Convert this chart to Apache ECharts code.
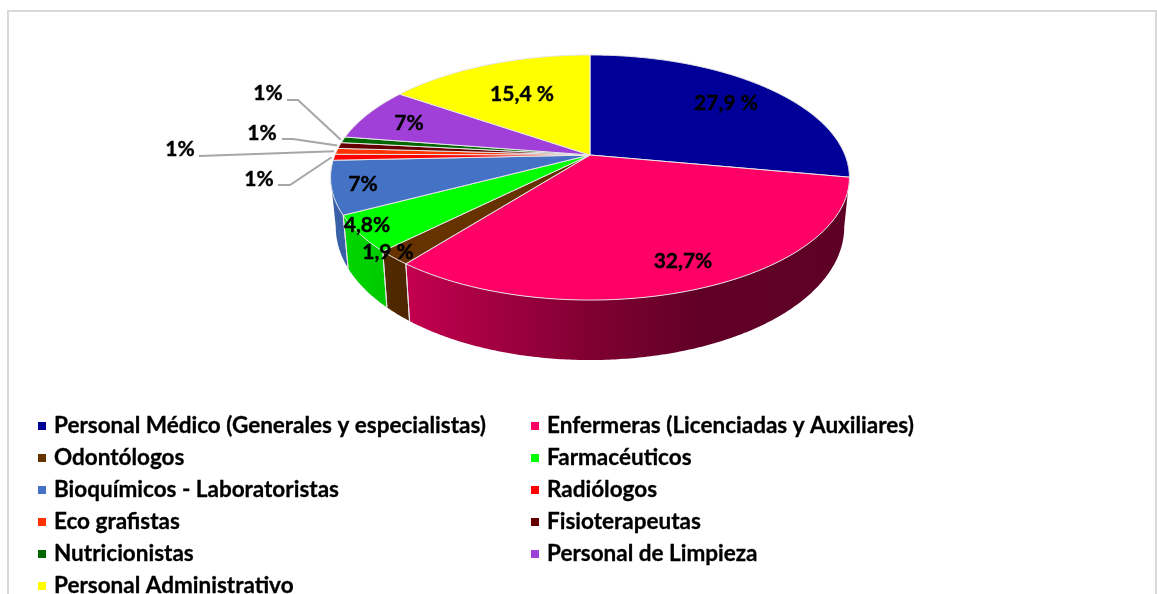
<!DOCTYPE html>
<html>
<head>
<meta charset="utf-8">
<style>html,body{margin:0;padding:0;background:#fff}#c{width:1157px;height:594px}</style>
<script src="https://cdn.jsdelivr.net/npm/echarts@6/dist/echarts.min.js"></script>
</head>
<body>
<div id="c"></div>
<script>
// DATA
const categories = ['Personal Médico (Generales y especialistas)','Enfermeras (Licenciadas y Auxiliares)','Odontólogos','Farmacéuticos','Bioquímicos - Laboratoristas','Radiólogos','Eco grafistas','Fisioterapeutas','Nutricionistas','Personal de Limpieza','Personal Administrativo'];
const values = [27.9,32.7,1.9,4.8,7,0.8,0.8,0.8,0.8,7.1,15.4];
const valueLabels = ['27,9 %','32,7%','1,9 %','4,8%','7%','1%','1%','1%','1%','7%','15,4 %'];
const colors = ['#000099','#FF0066','#663300','#00FF00','#4472C4','#FF0000','#FF3300','#660000','#006600','#A040D8','#FFFF00'];

// LAYOUT (separate from data)
const labelAt = [[726,103],[683,261],[388,252],[367,225],[363,184],[259,179],[180,149],[262,133],[268,93],[409,123],[522,94]];
const leaderVia = {5:[[278,185],[290,185]],6:[[199,156],[199,156]],7:[[282,139],[293,139]],8:[[287,100],[298,100]]};
const FONT = 'Lato';
const CX=590, CY=155, R=255, A=118.4, C=-0.1837, RING=0.98, DROP0=47, DROP1=13;

const total = values.reduce((a,b)=>a+b,0);
const starts = []; { let s=0; values.forEach(v=>{starts.push(s/total*2*Math.PI); s+=v;}); }
function topPt(t,r){ r=r===undefined?1:r; const u=r*Math.sin(t), v=-r*Math.cos(t), d=1+C*v; return [CX+R*u/d, CY+A*v/d]; }
function botPt(t){ const p=topPt(t); return [CX+(p[0]-CX)*RING, p[1]+DROP0-DROP1*Math.cos(t)]; }
const VIS0=Math.acos(C), VIS1=2*Math.PI-Math.acos(C);
const shadeStops=[[330,.86],[410,.76],[590,.5],[700,.38],[850,.37]];
function shade(hex,f){ const n=parseInt(hex.slice(1),16); return 'rgb('+[(n>>16)&255,(n>>8)&255,n&255].map(c=>Math.round(c*f)).join(',')+')'; }
function wallFill(hex){ const a=shadeStops[0][0], b=shadeStops[shadeStops.length-1][0];
  return new echarts.graphic.LinearGradient(a,0,b,0,shadeStops.map(s=>({offset:(s[0]-a)/(b-a),color:shade(hex,s[1])})),true); }
function arc(t0,t1,fn){ const n=Math.max(2,Math.ceil((t1-t0)/0.01)),o=[]; for(let i=0;i<=n;i++)o.push(fn(t0+(t1-t0)*i/n)); return o; }

function render(i){ return function(params,api){
  const t0=starts[i], t1=t0+api.value(0)/total*2*Math.PI, kids=[];
  kids.push({type:'polygon',z2:2,shape:{points:[[CX,CY]].concat(arc(t0,t1,t=>topPt(t)))},style:{fill:colors[i],stroke:'#e6e6e6',lineWidth:1}});
  const a=Math.max(t0,VIS0), b=Math.min(t1,VIS1);
  if(b>a){
    kids.push({type:'polygon',z2:1,shape:{points:arc(a,b,t=>topPt(t)).concat(arc(a,b,t=>botPt(t)).reverse())},style:{fill:wallFill(colors[i]),stroke:null}});
    [[t0,a],[t1,b]].forEach(e=>{ if(e[0]===e[1]){ const p=topPt(e[0]),q=botPt(e[0]); kids.push({type:'line',z2:1.5,shape:{x1:p[0],y1:p[1],x2:q[0],y2:q[1]},style:{stroke:'#e6e6e6',lineWidth:1}}); }});
  }
  if(leaderVia[i]){ const tip=topPt((t0+t1)/2,1.01);
    kids.push({type:'polyline',z2:3,shape:{points:leaderVia[i].concat([tip])},style:{stroke:'#a6a6a6',lineWidth:2,fill:null}}); }
  kids.push({type:'text',z2:4,x:labelAt[i][0],y:labelAt[i][1],style:{text:valueLabels[i],font:'bold 21px '+FONT,fill:'#000',stroke:'#000',lineWidth:0.4,align:'center',verticalAlign:'middle'}});
  return {type:'group',children:kids};
};}

const legendCommon={orient:'vertical',selectedMode:false,icon:'rect',itemWidth:8,itemHeight:8,itemGap:8,top:409,height:220,itemStyle:{borderWidth:0},
  textStyle:{fontFamily:FONT,fontWeight:'bold',fontSize:22.5,color:'#000',lineHeight:24,padding:[0,0,0,3],textBorderColor:'#000',textBorderWidth:0.3}};
const chart=echarts.init(document.getElementById('c'),null,{renderer:'canvas'});
chart.setOption({
  animation:false,backgroundColor:'#fff',
  graphic:[{type:'rect',z:-1,shape:{x:8,y:11,width:1148,height:700},style:{fill:'none',stroke:'#d9d9d9',lineWidth:2}}],
  legend:[
    Object.assign({},legendCommon,{left:33,data:categories.filter((c,i)=>i%2===0)}),
    Object.assign({},legendCommon,{left:526,data:categories.filter((c,i)=>i%2===1)})
  ],
  series:categories.map((name,i)=>({type:'custom',name,coordinateSystem:'none',silent:true,itemStyle:{color:colors[i]},data:[[values[i]]],renderItem:render(i)}))
});
</script>
</body>
</html>
